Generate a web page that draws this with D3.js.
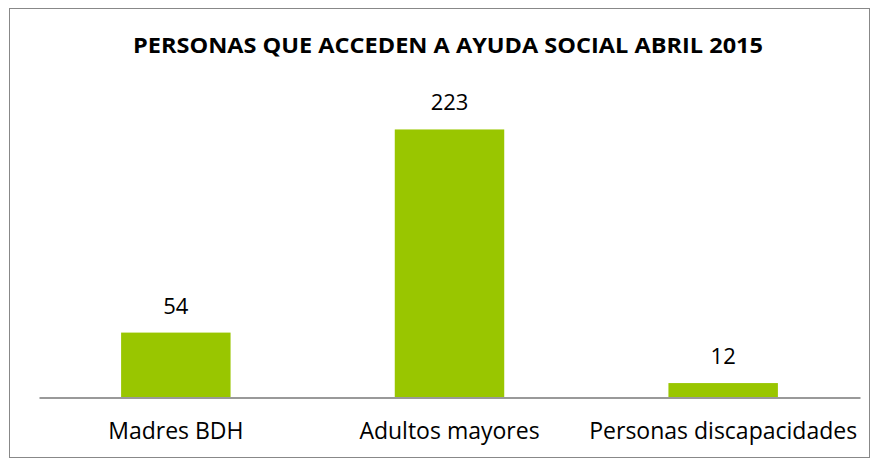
<!DOCTYPE html>
<html>
<head>
<meta charset="utf-8">
<script src="https://cdn.jsdelivr.net/npm/d3@7"></script>
<style>
  body { margin: 0; background: #fff; }
  text { font-family: "Open Sans", Lato, sans-serif; fill: #000; }
</style>
</head>
<body>
<svg></svg>
<script>
const categories = ['Madres BDH', 'Adultos mayores', 'Personas discapacidades'],
      values = [54, 223, 12],
      title = 'PERSONAS QUE ACCEDEN A AYUDA SOCIAL ABRIL 2015';

const width = 879,
      height = 459,
      plotLeft = 39,
      plotRight = 860,
      plotTop = 97,
      plotBottom = 397.5,
      xScale = d3.scaleBand()
                 .domain(categories)
                 .range([plotLeft, plotRight])
                 .paddingInner(0.6)
                 .paddingOuter(0.3),
      yScale = d3.scaleLinear()
                 .domain([0, 250])
                 .range([plotBottom, plotTop]);

const svg = d3.select('svg')
    .attr('width', width)
    .attr('height', height);

// chart frame
svg.append('rect')
    .attr('x', 9.5)
    .attr('y', 8.5)
    .attr('width', 860)
    .attr('height', 449)
    .attr('fill', 'none')
    .attr('stroke', '#888')
    .attr('stroke-width', 1);

svg.append('text')
    .text(title)
    .attr('x', 448)
    .attr('y', 53)
    .attr('text-anchor', 'middle')
    .attr('textLength', 630)
    .attr('lengthAdjust', 'spacingAndGlyphs')
    .style('font-weight', 'bold')
    .style('font-size', '21px');

svg.selectAll('rect.bar')
  .data(values)
  .enter()
  .append('rect')
    .attr('class', 'bar')
    .attr('x', (d, i) => xScale(categories[i]))
    .attr('y', (d) => yScale(d))
    .attr('width', xScale.bandwidth())
    .attr('height', (d) => plotBottom - yScale(d))
    .attr('fill', '#99c600');

svg.selectAll('text.val')
  .data(values)
  .enter()
  .append('text')
    .attr('class', 'val')
    .text((d) => d)
    .attr('x', (d, i) => xScale(categories[i]) + xScale.bandwidth() / 2)
    .attr('y', (d) => yScale(d) - 19)
    .attr('text-anchor', 'middle')
    .style('font-size', '22px');

const xAxis = d3.axisBottom(xScale)
                .tickSize(0)
                .tickSizeOuter(0)
                .tickPadding(23);

const gx = svg.append('g')
    .attr('transform', `translate(0, ${plotBottom})`)
    .call(xAxis);

gx.select('.domain')
    .attr('stroke', '#999')
    .attr('stroke-width', 2);

gx.selectAll('text')
    .attr('font-family', '"Open Sans", Lato, sans-serif')
    .attr('font-size', '23px')
    .attr('fill', '#000')
    .attr('dy', null)
    .attr('y', 41.5);
</script>
</body>
</html>
